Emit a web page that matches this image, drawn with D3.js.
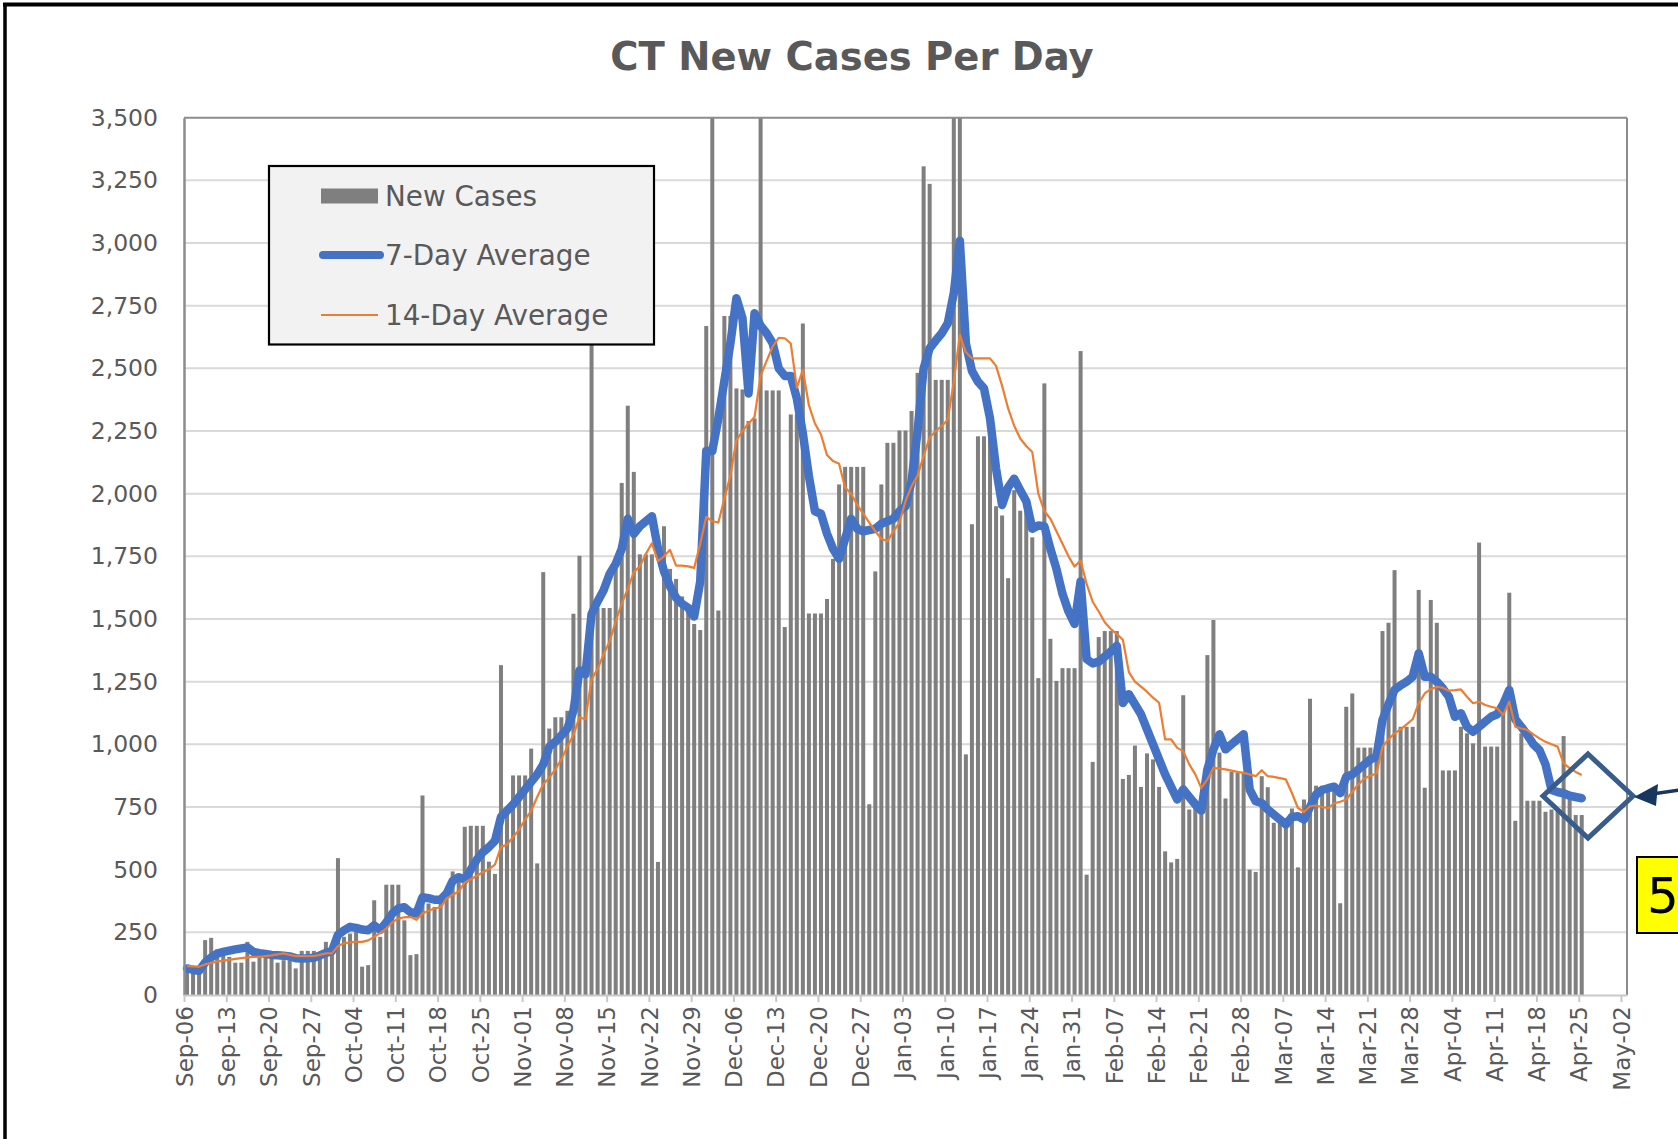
<!DOCTYPE html>
<html><head><meta charset="utf-8">
<script src="https://cdn.jsdelivr.net/npm/d3@7"></script>
<style>html,body{margin:0;padding:0;background:#fff;overflow:hidden}</style>
</head><body>
<svg id="chart" width="1678" height="1139"></svg>
<script>
// ---------------- data ----------------
const startDate = "2020-09-06";           // first bar (Sep-06)
const endDate = "2021-05-03";             // axis end (slot after May-02)
const titleText = "CT New Cases Per Day";
const legendLabels = ["New Cases", "7-Day Average", "14-Day Average"];
const annotationText = "5";
const yTicks = [0, 250, 500, 750, 1000, 1250, 1500, 1750, 2000, 2250, 2500, 2750, 3000, 3250, 3500];
const xTickLabels = ["Sep-06","Sep-13","Sep-20","Sep-27","Oct-04","Oct-11","Oct-18","Oct-25","Nov-01","Nov-08",
  "Nov-15","Nov-22","Nov-29","Dec-06","Dec-13","Dec-20","Dec-27","Jan-03","Jan-10","Jan-17","Jan-24","Jan-31",
  "Feb-07","Feb-14","Feb-21","Feb-28","Mar-07","Mar-14","Mar-21","Mar-28","Apr-04","Apr-11","Apr-18","Apr-25","May-02"];

// daily new cases (values above 3,500 are clipped by the axis)
const newCases = [120,110,100,219,228,182,182,152,129,129,
212,133,152,152,152,129,139,139,106,176,
176,176,152,212,166,546,232,245,252,113,
119,378,232,440,440,440,298,159,163,796,
365,351,390,422,493,458,671,675,675,675,
532,483,1316,725,876,876,876,983,525,1687,
1063,1108,1108,1134,1521,1752,1277,2800,1544,1544,
1544,1704,2043,2351,2087,1758,1758,1758,531,1870,
1700,1660,1590,1530,1480,1456,2669,3500,1534,2709,
2709,2420,2416,2290,2300,3500,2412,2412,2412,1468,
2316,2316,2679,1522,1522,1522,1580,1740,2037,2107,
2107,2107,2107,761,1690,2037,2203,2203,2252,2252,
2330,2482,3306,3236,2454,2454,2454,3500,3500,960,
1878,2229,2229,2230,1950,1913,1663,2014,1932,1940,
1826,1264,2440,1421,1253,1304,1304,1304,2569,480,
930,1428,1452,1452,1452,862,878,995,830,964,
940,830,573,529,543,1196,740,780,720,1356,
1496,967,784,891,887,887,500,491,873,829,
687,687,687,744,509,780,1182,835,835,835,
844,366,1150,1203,987,987,987,960,1452,1485,
1695,1070,1070,1070,1616,827,1576,1485,896,896,
896,1070,1044,1004,1805,991,991,991,1150,1605,
695,1044,775,775,775,731,740,740,1033,780,
718,718];

const avg7 = [106,100,97,130,150,165,172,177,182,186,
190,172,167,164,160,159,157,154,147,146,
147,149,158,168,175,240,258,272,268,261,
258,278,260,290,325,345,350,330,325,390,
386,380,380,405,455,470,460,500,540,570,
590,615,710,735,760,790,820,850,880,920,
990,1010,1035,1063,1134,1295,1280,1520,1570,1615,
1680,1720,1780,1900,1840,1870,1890,1910,1780,1690,
1630,1585,1560,1545,1510,1650,2170,2170,2300,2450,
2600,2780,2700,2400,2720,2670,2640,2600,2500,2470,
2470,2380,2240,2070,1930,1920,1840,1780,1740,1820,
1900,1860,1850,1855,1860,1880,1890,1900,1930,1950,
2050,2250,2500,2580,2611,2640,2680,2800,3009,2600,
2490,2447,2420,2300,2100,1955,2025,2060,2014,1970,
1860,1873,1870,1780,1700,1600,1530,1480,1650,1340,
1323,1330,1350,1370,1393,1165,1200,1160,1120,1060,
1000,940,880,830,780,820,790,760,735,900,
980,1040,980,1000,1020,1040,820,773,766,740,
720,700,680,710,713,700,750,800,818,825,
831,805,871,880,900,920,940,951,1097,1160,
1217,1235,1250,1270,1363,1270,1270,1250,1223,1190,
1110,1124,1070,1050,1070,1090,1110,1120,1160,1217,
1100,1070,1037,1000,977,920,818,810,805,795,
790,785];

const avg14 = [115,114,113,122,128,133,137,140,144,147,
150,152,152,155,158,162,166,160,155,155,
155,155,160,166,166,195,206,210,212,212,
218,232,248,265,290,305,310,312,300,325,
336,345,350,385,400,413,449,462,476,490,
502,520,591,600,630,660,700,735,790,841,
867,900,940,990,1037,1108,1100,1259,1300,1360,
1410,1490,1562,1620,1687,1710,1760,1802,1731,1750,
1776,1713,1713,1710,1704,1800,1908,1890,1885,1980,
2072,2213,2250,2280,2306,2470,2530,2587,2622,2620,
2599,2423,2494,2353,2280,2236,2154,2130,2119,2025,
2000,1955,1920,1885,1850,1820,1810,1850,1885,1970,
2030,2072,2150,2224,2250,2270,2295,2447,2634,2564,
2540,2540,2540,2540,2510,2430,2340,2271,2220,2190,
2166,2000,1930,1900,1850,1800,1750,1709,1733,1640,
1569,1530,1487,1460,1440,1417,1288,1250,1230,1210,
1186,1166,1020,1020,986,973,920,880,826,860,
906,903,900,895,890,886,880,873,897,873,
870,865,860,806,746,730,753,756,750,745,
765,771,780,810,840,864,875,884,990,1020,
1044,1060,1080,1100,1164,1203,1220,1230,1225,1214,
1216,1219,1190,1164,1170,1157,1150,1144,1117,1170,
1070,1063,1057,1040,1024,1010,1000,991,924,905,
890,878];

// ---------------- drawing ----------------
const FONT = "'DejaVu Sans', Verdana, sans-serif";
const TXT = "#595959";
const svg = d3.select("#chart");
const W = 1678, H = 1139;
const plot = {left: 184, right: 1627, top: 117.7, bottom: 995};

const t0 = d3.isoParse(startDate + "T00:00:00Z");
const t1 = d3.isoParse(endDate + "T00:00:00Z");
const dates = newCases.map((_, i) => d3.utcDay.offset(t0, i));
const tickDates = d3.utcDay.range(t0, t1, 7);

const x = d3.scaleUtc().domain([t0, t1]).range([plot.left, plot.right]);
const y = d3.scaleLinear().domain([0, 3500]).range([plot.bottom, plot.top]);
const mid = d => x(d3.utcHour.offset(d, 12));

svg.append("rect").attr("width", W).attr("height", H).attr("fill", "#fff");

// outer frame (left and top edges visible)
svg.append("line").attr("x1", 5).attr("x2", 5).attr("y1", 3).attr("y2", H).attr("stroke", "#000").attr("stroke-width", 3.5);
svg.append("line").attr("x1", 3).attr("x2", W).attr("y1", 4.5).attr("y2", 4.5).attr("stroke", "#000").attr("stroke-width", 4);

// title
svg.append("text").attr("x", 852).attr("y", 70).attr("text-anchor", "middle")
  .attr("font-family", FONT).attr("font-weight", "bold").attr("font-size", 38.5).attr("fill", TXT)
  .text(titleText);

// gridlines
svg.append("g").selectAll("line").data(yTicks.filter(v => v > 0 && v < 3500)).join("line")
  .attr("x1", plot.left).attr("x2", plot.right).attr("y1", d => y(d)).attr("y2", d => y(d))
  .attr("stroke", "#d9d9d9").attr("stroke-width", 2);

// clip
svg.append("clipPath").attr("id", "pc").append("rect")
  .attr("x", plot.left).attr("y", plot.top).attr("width", plot.right - plot.left).attr("height", plot.bottom - plot.top);

// bars
const barW = 4;
svg.append("g").attr("clip-path", "url(#pc)").selectAll("rect").data(newCases).join("rect")
  .attr("x", (d, i) => mid(dates[i]) - barW / 2)
  .attr("width", barW)
  .attr("y", d => y(d))
  .attr("height", d => plot.bottom - y(d))
  .attr("fill", "#7f7f7f");

// lines
const lineGen = d3.line().x((d, i) => mid(dates[i])).y(d => y(d));
svg.append("path").datum(avg7).attr("d", lineGen).attr("fill", "none")
  .attr("stroke", "#4472c4").attr("stroke-width", 8.5).attr("stroke-linejoin", "round").attr("stroke-linecap", "round");
svg.append("path").datum(avg14).attr("d", lineGen).attr("fill", "none")
  .attr("stroke", "#ed7d31").attr("stroke-width", 2.2).attr("stroke-linejoin", "round");

// plot border (top / right)
svg.append("line").attr("x1", plot.left).attr("x2", plot.right).attr("y1", plot.top).attr("y2", plot.top).attr("stroke", "#8c8c8c").attr("stroke-width", 2);
svg.append("line").attr("x1", plot.right).attr("x2", plot.right).attr("y1", plot.top).attr("y2", plot.bottom).attr("stroke", "#8c8c8c").attr("stroke-width", 2);

// y axis
const yAxis = svg.append("g").attr("transform", `translate(${plot.left},0)`)
  .call(d3.axisLeft(y).tickValues(yTicks).tickFormat(d3.format(",")).tickSize(0).tickPadding(26));
yAxis.select(".domain").attr("stroke", "#8c8c8c").attr("stroke-width", 2.5);
yAxis.selectAll("text").attr("font-family", FONT).attr("font-size", 23.5).attr("fill", TXT);

// x axis
const xAxis = svg.append("g").attr("transform", `translate(0,${plot.bottom})`)
  .call(d3.axisBottom(x).tickValues(tickDates).tickFormat((d, i) => xTickLabels[i]).tickSize(7).tickSizeOuter(0));
xAxis.select(".domain").attr("stroke", "#c8c8c8").attr("stroke-width", 2);
xAxis.selectAll(".tick line").attr("stroke", "#c8c8c8").attr("stroke-width", 2);
xAxis.selectAll("text").attr("font-family", FONT).attr("font-size", 23).attr("fill", TXT)
  .attr("transform", "rotate(-90)").attr("text-anchor", "end")
  .attr("x", -11).attr("y", 0).attr("dy", "0.36em");

// legend
const lg = svg.append("g");
lg.append("rect").attr("x", 269).attr("y", 166).attr("width", 385).attr("height", 178.5)
  .attr("fill", "#f2f2f2").attr("stroke", "#000").attr("stroke-width", 2.2);
const lgY = [196, 255, 315];
lg.append("rect").attr("x", 321).attr("y", lgY[0] - 7.5).attr("width", 57).attr("height", 15).attr("fill", "#7f7f7f");
lg.append("line").attr("x1", 323).attr("x2", 380).attr("y1", lgY[1]).attr("y2", lgY[1])
  .attr("stroke", "#4472c4").attr("stroke-width", 8).attr("stroke-linecap", "round");
lg.append("line").attr("x1", 321).attr("x2", 378).attr("y1", lgY[2]).attr("y2", lgY[2])
  .attr("stroke", "#ed7d31").attr("stroke-width", 2.2);
lg.selectAll("text").data(legendLabels).join("text")
  .attr("x", 385).attr("y", (d, i) => lgY[i]).attr("dy", "0.36em")
  .attr("font-family", FONT).attr("font-size", 27.8).attr("fill", TXT).text(d => d);

// annotation at right edge
const ann = svg.append("g");
ann.append("polygon").attr("points", "1588,754 1633,796 1588,838 1543,796")
  .attr("fill", "none").attr("stroke", "#385d8a").attr("stroke-width", 5).attr("stroke-linejoin", "miter");
ann.append("line").attr("x1", 1680).attr("y1", 790).attr("x2", 1652).attr("y2", 794)
  .attr("stroke", "#17375e").attr("stroke-width", 3.5);
ann.append("polygon").attr("points", "1634,797 1658,784 1656,806").attr("fill", "#17375e");
ann.append("rect").attr("x", 1637).attr("y", 857).attr("width", 60).attr("height", 76)
  .attr("fill", "#ffff00").attr("stroke", "#000").attr("stroke-width", 2);
ann.append("text").attr("x", 1647).attr("y", 913).attr("font-family", FONT).attr("font-size", 50).attr("fill", "#000").text(annotationText);
</script>
</body></html>
